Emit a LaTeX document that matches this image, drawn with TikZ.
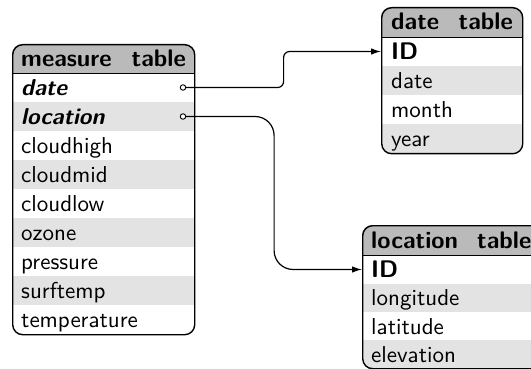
\documentclass[tikz,border=0pt]{standalone}
\usepackage{fontspec}
\setsansfont{lmsans10-regular.otf}[BoldFont=lmsans10-bold.otf, ItalicFont=lmsans10-oblique.otf, BoldItalicFont=lmsans10-boldoblique.otf]
\usetikzlibrary{arrows.meta,calc}
\begin{document}
\begin{tikzpicture}[x=1pt,y=-1pt,
  font=\sffamily\fontsize{23}{27}\selectfont,
  tborder/.style={draw=black, line width=1.4pt, rounded corners=10pt, anchor=north west, inner sep=0pt},
  hdr/.style={fill=black!27},
  shade/.style={fill=black!11},
  sep/.style={draw=black, line width=0.9pt},
  cell/.style={anchor=base west, inner sep=0pt},
  hcell/.style={anchor=base west, inner sep=0pt, font=\sffamily\bfseries\fontsize{24}{28}\selectfont},
  hcellr/.style={anchor=base east, inner sep=0pt, font=\sffamily\bfseries\fontsize{24}{28}\selectfont},
  port/.style={circle, draw=black, fill=white, line width=0.9pt, minimum size=5.5pt, inner sep=0pt},
  link/.style={draw=black, line width=1.2pt, -{Latex[length=10pt,width=6.5pt]}}
]
\clip (0,0) rectangle (531,369);
% ---------------- measure table ----------------
\begin{scope}
  \clip[rounded corners=10pt] (12,44) rectangle (194,334);
  \fill[hdr] (12,44) rectangle (194,73);
  \fill[shade] (12,102) rectangle (194,131);
  \fill[shade] (12,160) rectangle (194,189);
  \fill[shade] (12,218) rectangle (194,247);
  \fill[shade] (12,276) rectangle (194,305);
\end{scope}
\draw[sep] (12,73) -- (194,73);
\node[tborder, minimum width=182pt, minimum height=290pt] (measure) at (12,44) {};
\node[hcell] (mh) at (21,67) {measure};
\node[hcellr] (mt) at (186,67) {table};
\node[cell, font=\sffamily\bfseries\itshape\fontsize{23}{27}\selectfont] (mdate) at (21,95.5) {date};
\node[cell, font=\sffamily\bfseries\itshape\fontsize{23}{27}\selectfont] (mloc) at (21,124.5) {location};
\node[cell] (m3) at (21,153.5) {cloudhigh};
\node[cell] (m4) at (21,182.5) {cloudmid};
\node[cell] (m5) at (21,211.5) {cloudlow};
\node[cell] (m6) at (21,240.5) {ozone};
\node[cell] (m7) at (21,269.5) {pressure};
\node[cell] (m8) at (21,298.5) {surftemp};
\node[cell] (m9) at (21,327.5) {temperature};
\node[port] (pdate) at (183,87.5) {};
\node[port] (ploc) at (183,116.5) {};
% ---------------- date table ----------------
\begin{scope}
  \clip[rounded corners=10pt] (381,7) rectangle (522,153);
  \fill[hdr] (381,7) rectangle (522,37);
  \fill[shade] (381,66) rectangle (522,95);
  \fill[shade] (381,124) rectangle (522,153);
\end{scope}
\draw[sep] (381,37) -- (522,37);
\node[tborder, minimum width=141pt, minimum height=146pt] (datetbl) at (381,7) {};
\node[hcell] (dh) at (391,30) {date};
\node[hcellr] (dt) at (513,30) {table};
\node[hcell] (did) at (391,59.5) {ID};
\node[cell] (d2) at (391,88.5) {date};
\node[cell] (d3) at (391,117.5) {month};
\node[cell] (d4) at (391,146.5) {year};
\coordinate (dateIn) at (381,51.5);
% ---------------- location table ----------------
\begin{scope}
  \clip[rounded corners=10pt] (362,225) rectangle (541,368);
  \fill[hdr] (362,225) rectangle (541,255);
  \fill[shade] (362,283.5) rectangle (541,311.8);
  \fill[shade] (362,340) rectangle (541,368);
\end{scope}
\draw[sep] (362,255) -- (541,255);
\node[tborder, minimum width=179pt, minimum height=143pt] (loctbl) at (362,225) {};
\node[hcell] (lh) at (371,248) {location};
\node[hcellr] (lt) at (531.5,248) {table};
\node[hcell] (lid) at (371,277.5) {ID};
\node[cell] (l2) at (371,305.8) {longitude};
\node[cell] (l3) at (371,334.1) {latitude};
\node[cell] (l4) at (371,362.4) {elevation};
\coordinate (locIn) at (362,269.5);
% ---------------- links ----------------
\draw[link, rounded corners=6pt] (pdate.east) -| ($(pdate.east)!0.5!(dateIn)$) |- (dateIn);
\draw[link, rounded corners=19pt] (ploc.east) -| ($(ploc.east)!0.5!(locIn)$) |- (locIn);
\end{tikzpicture}
\end{document}
